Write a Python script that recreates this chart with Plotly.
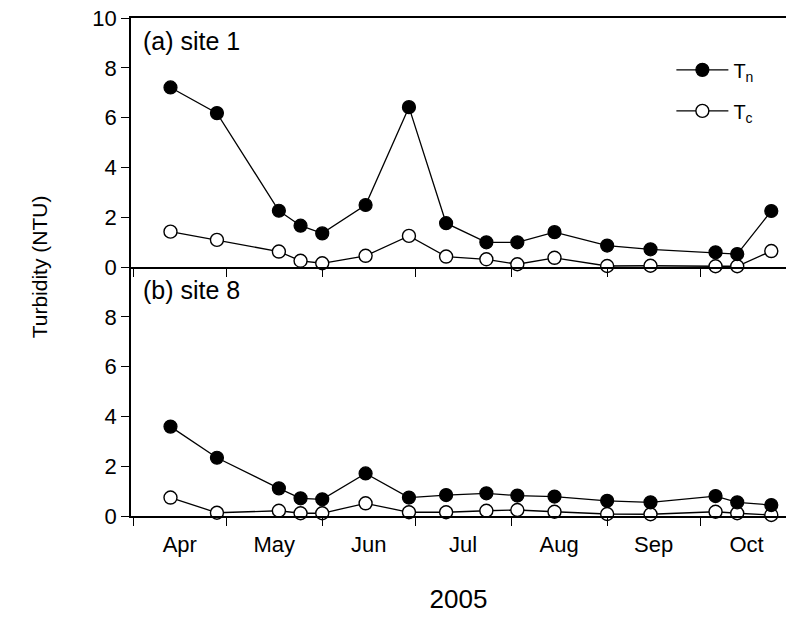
import plotly.graph_objects as go

# Sampling dates (2005)
dates = ["2005-04-13", "2005-04-28", "2005-05-18", "2005-05-25", "2005-06-01",
         "2005-06-15", "2005-06-29", "2005-07-11", "2005-07-24", "2005-08-03",
         "2005-08-15", "2005-09-01", "2005-09-15", "2005-10-06", "2005-10-13",
         "2005-10-24"]

# Site 1 turbidity (NTU)
site1_tn = [7.21, 6.18, 2.26, 1.66, 1.35, 2.49, 6.42, 1.76, 0.99, 0.99,
            1.40, 0.86, 0.71, 0.59, 0.52, 2.25]
site1_tc = [1.42, 1.09, 0.62, 0.25, 0.15, 0.45, 1.25, 0.42, 0.31, 0.11,
            0.37, 0.04, 0.05, 0.03, 0.03, 0.64]

# Site 8 turbidity (NTU)
site8_tn = [3.59, 2.34, 1.11, 0.71, 0.67, 1.71, 0.74, 0.84, 0.91, 0.82,
            0.78, 0.61, 0.55, 0.80, 0.55, 0.44]
site8_tc = [0.74, 0.13, 0.21, 0.11, 0.11, 0.51, 0.15, 0.15, 0.21, 0.24,
            0.17, 0.08, 0.07, 0.17, 0.11, 0.04]

panel_labels = ["(a) site 1", "(b) site 8"]
series_names = ["T<sub>n</sub>", "T<sub>c</sub>"]
top_ticks = [0, 2, 4, 6, 8, 10]
bottom_ticks = [0, 2, 4, 6, 8]

FONT = "Liberation Sans, Arial, sans-serif"
TICK_SIZE = 22
LINE_W = 1.3
MARKER_SIZE = 13

filled = dict(symbol="circle", size=MARKER_SIZE, color="black",
              line=dict(color="black", width=1.2))
hollow = dict(symbol="circle", size=MARKER_SIZE, color="white",
              line=dict(color="black", width=1.4))

fig = go.Figure()

panels = [("x", "y", site1_tn, site1_tc, True),
          ("x2", "y2", site8_tn, site8_tc, False)]
for xa, ya, tn, tc, show in panels:
    fig.add_trace(go.Scatter(x=dates, y=tc, xaxis=xa, yaxis=ya, mode="lines+markers",
                             line=dict(color="black", width=LINE_W), marker=hollow,
                             name=series_names[1], legendgroup="tc", legendrank=2,
                             showlegend=show, cliponaxis=False))
    fig.add_trace(go.Scatter(x=dates, y=tn, xaxis=xa, yaxis=ya, mode="lines+markers",
                             line=dict(color="black", width=LINE_W), marker=filled,
                             name=series_names[0], legendgroup="tn", legendrank=1,
                             showlegend=show, cliponaxis=False))

x_range = ["2005-03-31 06:00", "2005-10-28 18:00"]
common_x = dict(type="date", range=x_range, dtick="M1", tick0="2005-04-01",
                ticks="outside", ticklen=8, tickwidth=1.2, tickcolor="black",
                showline=True, linecolor="black", linewidth=1.5,
                showgrid=False, zeroline=False, tickformat="%b",
                ticklabelmode="period")
common_y = dict(range=[0, 10], ticks="outside", ticklen=8, tickwidth=1.2,
                tickcolor="black", showline=True, linecolor="black", linewidth=1.5,
                showgrid=False, zeroline=False,
                tickfont=dict(family=FONT, size=TICK_SIZE, color="black"))

fig.update_layout(
    width=786, height=622,
    margin=dict(l=131, r=0, t=18, b=106),
    paper_bgcolor="white", plot_bgcolor="white",
    font=dict(family=FONT, color="black"),
    xaxis=dict(common_x, anchor="y", matches="x2", showticklabels=False, mirror=True),
    xaxis2=dict(common_x, anchor="y2",
                tickfont=dict(family=FONT, size=TICK_SIZE, color="black"),
                title=dict(text="2005", font=dict(family=FONT, size=26, color="black"),
                           standoff=34)),
    yaxis=dict(common_y, domain=[0.5, 1.0], anchor="x", tickvals=top_ticks),
    yaxis2=dict(common_y, domain=[0.0, 0.5], anchor="x2", tickvals=bottom_ticks),
    legend=dict(x=0.825, y=0.935, xanchor="left", yanchor="top",
                bgcolor="rgba(0,0,0,0)", tracegroupgap=12, itemwidth=52,
                font=dict(family=FONT, size=20, color="black")),
    showlegend=True,
)

fig.add_annotation(text=panel_labels[0], xref="paper", yref="paper",
                   x=0.016, y=0.985, xanchor="left", yanchor="top", showarrow=False,
                   font=dict(family=FONT, size=25, color="black"))
fig.add_annotation(text=panel_labels[1], xref="paper", yref="paper",
                   x=0.016, y=0.485, xanchor="left", yanchor="top", showarrow=False,
                   font=dict(family=FONT, size=25, color="black"))
fig.add_annotation(text="Turbidity (NTU)", xref="paper", yref="paper",
                   x=-0.14, y=0.5, xanchor="center", yanchor="middle",
                   textangle=-90, showarrow=False,
                   font=dict(family=FONT, size=21, color="black"))

fig.write_html("out.html")
